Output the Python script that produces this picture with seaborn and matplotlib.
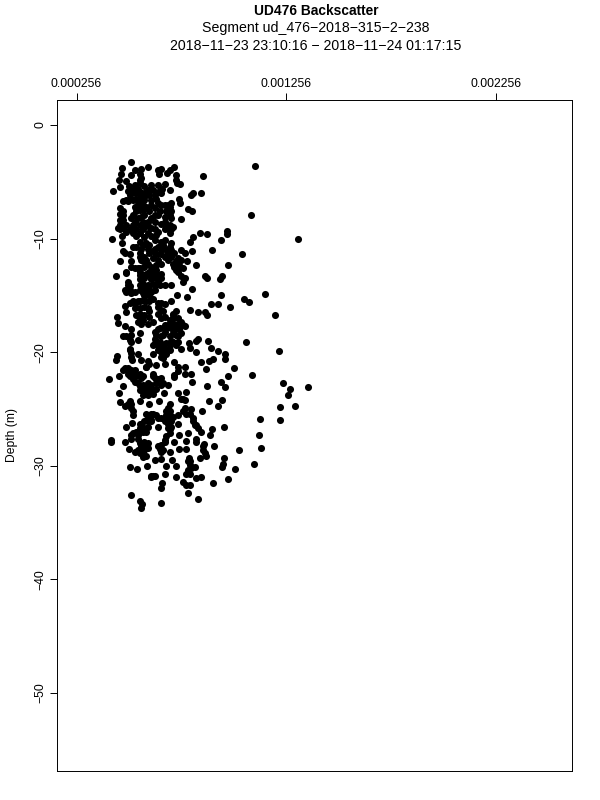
#!/usr/bin/env python3
"""UD476 backscatter profile, values read off the picture."""

import matplotlib
matplotlib.use("Agg")
import matplotlib.pyplot as plt
import seaborn as sns
import numpy as np
import pandas as pd

# backscatter in units of 1e-6, depth in m (positive down), by depth range
back_upper = [517, 472, 598, 564, 537, 644, 660, 723, 700, 649, 687, 1105, 859, 728, 517, 557, 564, 469, 458, 493,
              731, 735, 750, 429, 461, 557, 676, 612, 580, 700, 811, 803, 851, 525, 549, 509, 533, 580, 620, 644,
              660, 604, 744, 750, 692, 477, 501, 525, 557, 580, 612, 676, 787, 806, 1089, 464, 464, 533, 557, 588,
              628, 652, 708, 580, 612, 477, 517, 549, 644, 755, 708, 461, 509, 477, 557, 580, 612, 660, 700, 716,
              453, 1312, 426, 472, 472, 843, 879, 973, 975, 943, 811, 795, 525, 557, 636, 660, 700, 628, 708, 541,
              572, 604, 628, 660, 692, 755, 771, 903, 808, 1046, 485, 509, 557, 636, 676, 708, 739, 464, 517, 564,
              596, 660, 716, 782, 824, 979, 517, 557, 620, 739, 493]
depth_upper = [3.3, 3.8, 3.7, 3.9, 4.0, 4.0, 3.9, 3.7, 4.0, 4.3, 4.2, 3.6, 4.5, 4.4, 4.4, 4.3, 4.7, 4.3, 4.8, 4.9,
               4.8, 5.1, 5.2, 5.8, 5.5, 4.8, 5.2, 5.3, 5.4, 5.7, 6.0, 6.2, 6.0, 5.7, 5.6, 6.2, 6.0, 6.0, 5.7, 5.9,
               6.0, 6.2, 6.5, 6.9, 7.0, 6.7, 6.7, 6.6, 6.5, 6.6, 6.6, 7.0, 7.4, 7.6, 7.9, 7.3, 7.8, 7.2, 7.5, 7.2,
               7.3, 7.6, 7.6, 7.9, 8.2, 8.4, 8.2, 8.2, 7.9, 8.3, 8.2, 8.8, 9.2, 9.1, 8.8, 8.8, 9.1, 8.7, 8.8, 9.0,
               9.1, 10.0, 10.0, 9.8, 10.4, 9.5, 9.6, 9.3, 9.6, 10.1, 9.9, 10.3, 9.5, 9.5, 9.7, 10.3, 9.5, 10.1, 10.4, 10.7,
               10.6, 10.6, 10.9, 11.0, 11.0, 11.0, 11.3, 11.0, 11.1, 11.4, 11.3, 11.4, 11.3, 11.4, 11.6, 11.6, 11.7, 12.0, 12.0, 11.9,
               12.2, 12.2, 12.2, 12.0, 12.3, 12.3, 12.5, 12.6, 12.8, 12.6, 12.9]

back_middle = [490, 442, 557, 580, 620, 660, 739, 771, 763, 867, 878, 951, 941, 501, 509, 557, 580, 620, 644, 676,
               708, 806, 493, 517, 596, 628, 580, 735, 784, 944, 1153, 1054, 1078, 525, 557, 588, 620, 708, 485, 676,
               644, 895, 930, 986, 493, 557, 596, 668, 795, 835, 867, 878, 728, 1204, 450, 453, 557, 564, 604, 660,
               716, 739, 755, 700, 485, 517, 557, 596, 644, 676, 708, 771, 747, 477, 517, 549, 628, 660, 700, 731,
               835, 824, 882, 1062, 790, 795, 644, 684, 731, 755, 512, 517, 895, 930, 1223, 827, 549, 620, 660, 700,
               448, 445, 522, 564, 604, 585, 668, 636, 723, 909, 890, 851, 965, 962, 1006, 875, 485, 517, 557, 771,
               739, 803, 771, 720, 620, 660, 1091, 979, 458, 413, 509, 533, 564, 628, 808, 946, 962, 1240, 879, 1359,
               1272, 692, 480, 557, 612, 660, 580, 620, 458, 739, 779, 671, 1264, 763]
depth_middle = [13.0, 13.3, 13.2, 13.5, 13.1, 13.1, 12.9, 13.5, 13.8, 13.3, 13.5, 13.3, 13.6, 13.8, 14.2, 14.1, 14.2, 14.0, 13.8, 14.1,
                14.1, 14.4, 14.7, 14.8, 14.7, 14.5, 15.0, 15.0, 15.1, 15.0, 14.9, 15.3, 15.6, 15.5, 15.5, 15.5, 15.3, 15.5, 15.9, 15.8,
                16.0, 15.8, 15.8, 16.0, 16.5, 16.6, 16.1, 16.4, 16.3, 16.5, 16.5, 16.7, 16.4, 16.7, 16.9, 17.4, 17.0, 17.5, 16.9, 17.0,
                16.7, 17.0, 17.3, 17.5, 17.7, 18.0, 18.3, 17.5, 18.0, 18.2, 17.9, 17.7, 18.0, 18.6, 19.1, 18.9, 18.8, 18.6, 18.6, 18.5,
                18.8, 19.0, 19.0, 19.1, 19.2, 19.6, 19.4, 19.2, 19.4, 19.7, 19.7, 20.1, 19.6, 19.9, 19.9, 20.0, 20.2, 20.2, 20.0, 19.8,
                20.3, 20.7, 20.7, 20.7, 21.0, 21.3, 20.5, 21.1, 20.9, 20.6, 20.8, 20.9, 20.2, 20.6, 21.4, 21.5, 21.4, 21.6, 21.9, 21.3,
                21.7, 21.9, 21.9, 22.2, 21.9, 22.3, 22.0, 22.1, 22.1, 22.4, 22.1, 22.6, 22.3, 22.3, 22.6, 22.6, 23.1, 22.7, 23.0, 23.1,
                23.2, 22.9, 23.0, 23.0, 22.9, 22.9, 23.5, 23.3, 23.6, 23.6, 23.5, 23.6, 23.8, 24.1]

back_lower = [604, 461, 512, 560, 604, 647, 887, 948, 930, 1224, 1296, 485, 517, 525, 700, 684, 771, 803, 855, 588,
              620, 739, 612, 644, 700, 676, 779, 811, 1129, 1226, 520, 493, 564, 596, 708, 739, 827, 851, 903, 959,
              894, 557, 525, 549, 588, 700, 744, 787, 1126, 421, 421, 488, 580, 676, 719, 776, 824, 827, 862, 911,
              1134, 504, 564, 596, 644, 668, 703, 747, 776, 1029, 533, 572, 859, 875, 846, 628, 657, 712, 792, 795,
              957, 954, 952, 1100, 509, 545, 591, 684, 728, 1013, 819, 787, 620, 676, 728, 795, 851, 824, 978, 909,
              763, 779, 798, 665, 657, 789, 514, 557, 569, 564, 658, 835, 612]
depth_lower = [23.6, 24.4, 24.3, 24.3, 24.6, 24.3, 24.3, 24.2, 24.7, 24.8, 24.7, 24.7, 24.9, 25.5, 24.6, 25.2, 24.9, 25.0, 25.2, 25.4,
               25.4, 25.5, 26.1, 26.6, 25.8, 26.1, 25.4, 25.8, 25.9, 26.0, 26.2, 26.6, 26.6, 26.1, 26.6, 26.3, 26.4, 27.0, 26.8, 26.6,
               27.3, 27.0, 27.1, 27.6, 27.0, 27.1, 27.3, 27.1, 27.3, 27.7, 27.9, 27.9, 27.9, 27.7, 27.9, 27.8, 27.6, 27.9, 28.1, 28.3,
               28.4, 28.5, 28.3, 28.4, 28.3, 28.6, 28.8, 28.5, 28.5, 28.6, 28.8, 29.2, 28.6, 29.1, 29.3, 29.5, 29.4, 29.5, 29.3, 29.6,
               29.3, 29.8, 30.1, 29.8, 30.1, 30.3, 30.0, 30.0, 30.0, 30.3, 30.1, 30.4, 30.9, 30.7, 31.0, 30.7, 31.0, 31.1, 31.2, 31.5,
               31.4, 31.7, 31.7, 31.5, 32.0, 32.4, 32.6, 33.1, 33.4, 33.7, 33.3, 32.9, 31.0]

# points inside the dense clusters
back_cluster_upper = [506, 533, 557, 644, 501, 557, 596, 665, 557, 580, 628, 490, 549, 636, 541, 509, 557, 572, 612, 644,
                      708, 660, 477, 541, 572, 604, 684, 700, 477, 525, 564, 628, 676, 700, 461, 533, 572, 596, 676, 628,
                      493, 525, 541, 596, 628, 684, 708, 461, 493, 572, 596, 644, 676, 541, 580, 612, 668, 557, 588, 676,
                      700, 525, 564, 596, 644, 676, 708, 723, 477, 580, 604, 620, 660, 692, 572, 557, 588, 620, 644, 692,
                      731, 755, 533, 580, 612, 636, 723, 747, 763, 549, 604, 636, 731]
depth_cluster_upper = [5.4, 5.3, 5.1, 5.3, 5.8, 5.9, 5.7, 5.6, 6.2, 6.3, 6.2, 6.6, 6.8, 6.5, 6.5, 6.5, 7.0, 7.0, 7.0, 6.9,
                       6.9, 7.0, 7.6, 7.6, 7.5, 7.6, 7.6, 7.2, 7.9, 7.9, 8.1, 7.9, 8.1, 7.9, 8.4, 8.5, 8.5, 8.5, 8.5, 8.5,
                       8.8, 8.8, 9.2, 8.9, 9.2, 9.1, 9.2, 9.2, 9.4, 9.2, 9.5, 9.4, 9.2, 9.8, 9.9, 9.8, 10.6, 10.3, 10.4, 10.1,
                       10.7, 10.7, 10.9, 10.9, 10.7, 10.9, 11.0, 11.3, 11.1, 11.6, 11.3, 11.1, 11.4, 11.3, 12.0, 11.6, 11.9, 11.7, 11.9, 11.9,
                       12.0, 11.9, 12.6, 12.5, 12.5, 12.3, 12.5, 12.3, 12.6, 12.6, 12.9, 12.8, 12.8]

back_cluster_middle = [485, 509, 533, 557, 580, 604, 628, 652, 501, 557, 572, 596, 612, 636, 660, 557, 588, 644, 604, 755,
                       572, 604, 612, 509, 533, 549, 572, 604, 644, 660, 533, 557, 580, 604, 660, 644, 716, 541, 549, 572,
                       580, 676, 700, 723, 739, 763, 676, 692, 716, 620, 628, 636, 652, 668, 684, 716, 723, 739, 755, 628,
                       652, 708, 716, 739, 517, 509, 493, 660, 676, 700, 644, 660, 684, 676, 517, 509, 620, 588, 596, 477,
                       501, 501, 525, 533, 541, 525, 572, 620, 739, 723, 549, 572, 596, 636, 644, 668, 588, 604, 596, 636, 557]
depth_cluster_middle = [14.5, 14.5, 14.7, 14.5, 14.5, 14.4, 14.1, 14.1, 14.1, 13.6, 14.0, 14.1, 13.6, 13.5, 13.5, 12.9, 13.1, 13.2, 13.2, 13.3,
                        14.8, 15.0, 14.7, 15.7, 15.8, 15.5, 15.4, 15.5, 15.7, 15.7, 16.1, 16.1, 16.0, 16.4, 16.3, 16.6, 16.6, 16.7, 17.3, 17.2,
                        16.7, 16.9, 17.2, 17.0, 17.5, 17.6, 17.6, 17.6, 17.5, 17.3, 18.2, 18.5, 17.9, 18.5, 17.9, 18.3, 18.0, 18.6, 18.3, 19.2,
                        19.1, 19.0, 19.1, 19.1, 18.5, 18.9, 18.6, 19.5, 19.7, 19.4, 19.8, 20.4, 20.2, 21.0, 20.4, 19.8, 19.4, 21.3, 20.8, 21.6,
                        21.4, 21.9, 22.0, 21.6, 22.1, 22.4, 22.1, 22.1, 21.3, 22.0, 22.7, 22.9, 22.7, 22.7, 22.4, 22.7, 23.2, 22.9, 23.3, 23.2, 23.3]

back_cluster_lower = [572, 596, 620, 588, 612, 755, 771, 501, 517, 525, 692, 684, 700, 700, 716, 763, 612, 636, 596, 644,
                      660, 684, 692, 557, 580, 612, 557, 580, 541, 596, 795, 811, 819, 835, 692, 700, 708, 517, 517, 684,
                      676, 549, 572, 572, 557, 580, 596, 549, 557, 580, 588, 652, 660, 660, 859, 867, 787, 795, 803, 779,
                      803, 628, 612]
depth_cluster_lower = [23.8, 23.8, 23.7, 23.5, 23.4, 24.1, 24.2, 24.6, 24.6, 25.2, 24.9, 25.5, 25.2, 25.5, 25.7, 25.2, 25.4, 25.5, 25.8, 25.8,
                       25.8, 26.0, 26.3, 26.3, 26.1, 26.0, 26.7, 26.7, 27.0, 26.6, 25.4, 26.1, 26.4, 26.7, 26.7, 26.8, 26.1, 27.3, 27.6, 27.4,
                       27.9, 27.3, 27.0, 28.0, 28.0, 28.2, 28.0, 28.6, 28.9, 28.6, 29.1, 28.5, 28.2, 28.8, 28.3, 28.9, 29.6, 29.9, 30.1, 30.7,
                       30.2, 30.9, 30.9]

x_ticks = [0.000256, 0.001256, 0.002256]
x_tick_labels = ["0.000256", "0.001256", "0.002256"]
y_ticks = [0, -10, -20, -30, -40, -50]
y_tick_labels = ["0", "\u221210", "\u221220", "\u221230", "\u221240", "\u221250"]

sns.set_style("ticks")
plt.rcParams['font.family'] = ['Liberation Sans', 'DejaVu Sans']

back_all = back_upper + back_middle + back_lower + back_cluster_upper + back_cluster_middle + back_cluster_lower
depth_all = depth_upper + depth_middle + depth_lower + depth_cluster_upper + depth_cluster_middle + depth_cluster_lower

df = pd.DataFrame({
    'backscatter': np.array(back_all) / 1e6,
    'depth': -np.array(depth_all),
})

fig = plt.figure(figsize=(6, 8), dpi=100)
ax = fig.add_axes([57 / 600, 1 - 771 / 800, (571.5 - 57) / 600, (771 - 100) / 800])

sns.scatterplot(data=df, x='backscatter', y='depth', ax=ax, color='black', s=26, linewidth=0, legend=False)

ax.set_xlim(0.000163, 0.002616)
ax.set_ylim(-56.87, 2.2)

ax.xaxis.tick_top()
ax.set_xticks(x_ticks)
ax.set_xticklabels(x_tick_labels, fontsize=8.7)
ax.set_yticks(y_ticks)
ax.set_yticklabels(y_tick_labels, fontsize=8.7, rotation=90, va='center')
ax.tick_params(axis='y', length=5, width=0.7, color='black', labelcolor='black', pad=2.5)
ax.tick_params(axis='x', length=5, width=0.7, color='black', labelcolor='black', pad=2.5)
for side in ax.spines.values():
    side.set_visible(True)
    side.set_linewidth(0.7)
    side.set_color('black')

ax.set_xlabel('')
ax.set_ylabel('Depth (m)', fontsize=8.7, color='black', labelpad=12)

fig.text(316 / 600, 1 - 11 / 800, 'UD476 Backscatter', ha='center', va='center', fontsize=9.9, fontweight='bold', color='black')
fig.text(316 / 600, 1 - 28 / 800, 'Segment ud_476\u22122018\u2212315\u22122\u2212238', ha='center', va='center', fontsize=10.2, color='black')
fig.text(316 / 600, 1 - 46 / 800, '2018\u221211\u221223 23:10:16 \u2212 2018\u221211\u221224 01:17:15', ha='center', va='center', fontsize=10.2, color='black')

plt.savefig('out.png', dpi=100, facecolor='white')
plt.close()
